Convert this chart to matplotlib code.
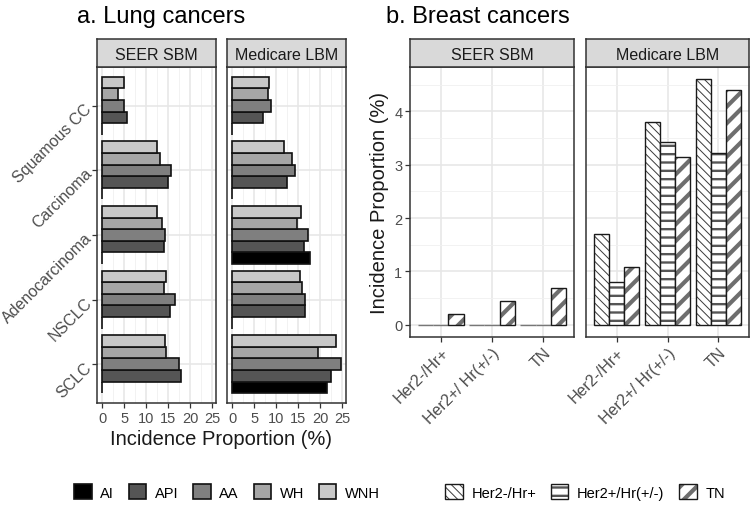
import numpy as np
import matplotlib
matplotlib.use("Agg")
import matplotlib.pyplot as plt
from matplotlib.patches import Patch, Rectangle
from matplotlib.legend_handler import HandlerTuple

plt.rcParams['font.family'] = ['Liberation Sans', 'DejaVu Sans']

# ---- data ----
lung_types = ["Squamous CC", "Carcinoma", "Adenocarcinoma", "NSCLC", "SCLC"]
races = ["AI", "API", "AA", "WH", "WNH"]
race_colors = ["#000000", "#555555", "#7f7f7f", "#a6a6a6", "#c8c8c8"]

# values per race, in lung_types order
seer_lung = {
    "AI":  [0, 0, 0, 0, 0],
    "API": [5.5, 15.0, 14.0, 15.3, 17.9],
    "AA":  [5.0, 15.6, 14.3, 16.6, 17.5],
    "WH":  [3.5, 13.2, 13.5, 14.0, 14.4],
    "WNH": [5.0, 12.4, 12.4, 14.5, 14.3],
}
medicare_lung = {
    "AI":  [0, 0, 17.6, 0, 21.6],
    "API": [6.9, 12.3, 16.3, 16.5, 22.4],
    "AA":  [8.8, 14.2, 17.1, 16.5, 24.6],
    "WH":  [8.1, 13.6, 14.7, 15.9, 19.4],
    "WNH": [8.4, 11.7, 15.6, 15.4, 23.6],
}

breast_types = ["Her2-/Hr+", "Her2+/ Hr(+/-)", "TN"]
subtypes = ["Her2-/Hr+", "Her2+/Hr(+/-)", "TN"]
seer_breast = {
    "Her2-/Hr+":     [0, 0, 0],
    "Her2+/Hr(+/-)": [0, 0, 0],
    "TN":            [0.20, 0.44, 0.69],
}
medicare_breast = {
    "Her2-/Hr+":     [1.70, 3.80, 4.60],
    "Her2+/Hr(+/-)": [0.81, 3.42, 3.21],
    "TN":            [1.08, 3.15, 4.39],
}
hatch_style = {
    "Her2-/Hr+":     dict(hatch="\\\\\\\\", color="#3a3a3a", lw=0.7),
    "Her2+/Hr(+/-)": dict(hatch="--", color="#555555", lw=1.7),
    "TN":            dict(hatch="//", color="#6e6e6e", lw=3.0),
}

W, H = 750, 506
fig = plt.figure(figsize=(7.5, 5.06), dpi=100)


def px_axes(x0, y0, x1, y1):
    return fig.add_axes([x0 / W, 1 - y1 / H, (x1 - x0) / W, (y1 - y0) / H])


def style_panel(ax):
    ax.set_facecolor("white")
    for s in ax.spines.values():
        s.set_color("#333333")
        s.set_linewidth(1.1)
    ax.tick_params(length=3.5, width=0.9, color="#333333", labelcolor="#4d4d4d",
                   labelsize=10.5, pad=2)
    ax.grid(True, which="major", color="#e6e6e6", lw=1.1)
    ax.grid(True, which="minor", color="#f0f0f0", lw=0.6)
    ax.set_axisbelow(True)


def strip(x0, x1, label):
    s = px_axes(x0, 40, x1, 68)
    s.set_facecolor("#d9d9d9")
    s.set_xticks([]); s.set_yticks([])
    for sp in s.spines.values():
        sp.set_color("#333333"); sp.set_linewidth(1.1)
    s.text(0.5, 0.45, label, ha="center", va="center", fontsize=11.5, color="#1a1a1a",
           transform=s.transAxes)


def set_hlw(patch, lw):
    try:
        patch.set_hatch_linewidth(lw)
    except AttributeError:
        pass


def hatched_bar(ax, x, h, width, sub):
    st = hatch_style[sub]
    bars = ax.bar(x, h, width, color="white", edgecolor=st["color"], hatch=st["hatch"], lw=0)
    for b in bars:
        set_hlw(b, st["lw"])
    edges = ["#777777" if v == 0 else "#1a1a1a" for v in h]
    ax.bar(x, h, width, fill=False, edgecolor=edges, lw=1.0)


# ---- lung panels ----
ypos = np.arange(len(lung_types))[::-1] + 1
offsets = {"AI": -0.36, "API": -0.18, "AA": 0.0, "WH": 0.18, "WNH": 0.36}
for i, (data, label, x0, x1) in enumerate([(seer_lung, "SEER SBM", 97, 216),
                                            (medicare_lung, "Medicare LBM", 227, 346)]):
    ax = px_axes(x0, 68, x1, 404)
    style_panel(ax)
    for r, c in zip(races, race_colors):
        ax.barh(ypos + offsets[r], data[r], 0.18, color=c, edgecolor="#111111", lw=1.2)
    ax.set_xlim(-1.23, 25.83)
    ax.set_ylim(0.4, 5.6)
    ax.set_xticks([0, 5, 10, 15, 20, 25])
    ax.set_xticks([2.5, 7.5, 12.5, 17.5, 22.5], minor=True)
    ax.set_yticks(ypos)
    ax.tick_params(axis="x", which="minor", length=0)
    if i == 0:
        ax.set_yticklabels(lung_types, rotation=45, ha="right", va="center",
                           rotation_mode="anchor", fontsize=11.5)
    else:
        ax.set_yticklabels([])
        ax.tick_params(axis="y", length=0)
    strip(x0, x1, label)

fig.text(221 / W, 1 - 440 / H, "Incidence Proportion (%)", ha="center", va="center",
         fontsize=14.5, color="#1a1a1a")

# ---- breast panels ----
xb = np.arange(len(breast_types)) + 1
boff = {"Her2-/Hr+": -0.3, "Her2+/Hr(+/-)": 0.0, "TN": 0.3}
for i, (data, label, x0, x1) in enumerate([(seer_breast, "SEER SBM", 410, 574),
                                            (medicare_breast, "Medicare LBM", 586, 749)]):
    ax = px_axes(x0, 68, x1, 338)
    style_panel(ax)
    for sub in subtypes:
        hatched_bar(ax, xb + boff[sub], data[sub], 0.3, sub)
    ax.set_xlim(0.4, 3.6)
    ax.set_ylim(-0.23, 4.83)
    ax.set_xticks(xb)
    ax.set_yticks([0, 1, 2, 3, 4])
    ax.set_yticks([0.5, 1.5, 2.5, 3.5, 4.5], minor=True)
    ax.tick_params(axis="y", which="minor", length=0)
    ax.set_xticklabels(breast_types, rotation=45, ha="right", va="top",
                       rotation_mode="anchor", fontsize=11.5)
    if i == 0:
        ax.set_ylabel("Incidence Proportion (%)", fontsize=14.5, color="#1a1a1a", labelpad=4)
    else:
        ax.set_yticklabels([])
        ax.tick_params(axis="y", length=0)
    strip(x0, x1, label)

# ---- titles ----
tfont = ['Liberation Sans Narrow', 'Liberation Sans']
fig.text(77 / W, 1 - 17 / H, "a. Lung cancers", family=tfont, fontsize=17, va="center")
fig.text(386 / W, 1 - 17 / H, "b. Breast cancers", family=tfont, fontsize=17, va="center")

# ---- legends ----
lh = [Patch(facecolor=c, edgecolor="#111111", lw=1.2) for c in race_colors]
fig.legend(lh, races, loc="center", bbox_to_anchor=(227 / W, 1 - 493 / H), ncol=5,
           frameon=False, fontsize=10.5, handlelength=1.2, handleheight=1.2,
           columnspacing=1.0, handletextpad=0.6)

bh = []
for sub in subtypes:
    st = hatch_style[sub]
    p1 = Patch(facecolor="white", edgecolor=st["color"], hatch=st["hatch"], lw=0)
    p2 = Patch(fill=False, edgecolor="#1a1a1a", lw=1.0)
    bh.append((p1, p2))
leg = fig.legend(bh, subtypes, loc="center", bbox_to_anchor=(585 / W, 1 - 493 / H), ncol=3,
                 frameon=False, fontsize=10.5, handlelength=1.2, handleheight=1.2,
                 columnspacing=1.0, handletextpad=0.6,
                 handler_map={tuple: HandlerTuple(ndivide=1, pad=0)})
hlw = {st["hatch"]: st["lw"] for st in hatch_style.values()}
for p in leg.findobj(Rectangle):
    if p.get_hatch() in hlw:
        set_hlw(p, hlw[p.get_hatch()])

fig.savefig("out.png", dpi=100)
